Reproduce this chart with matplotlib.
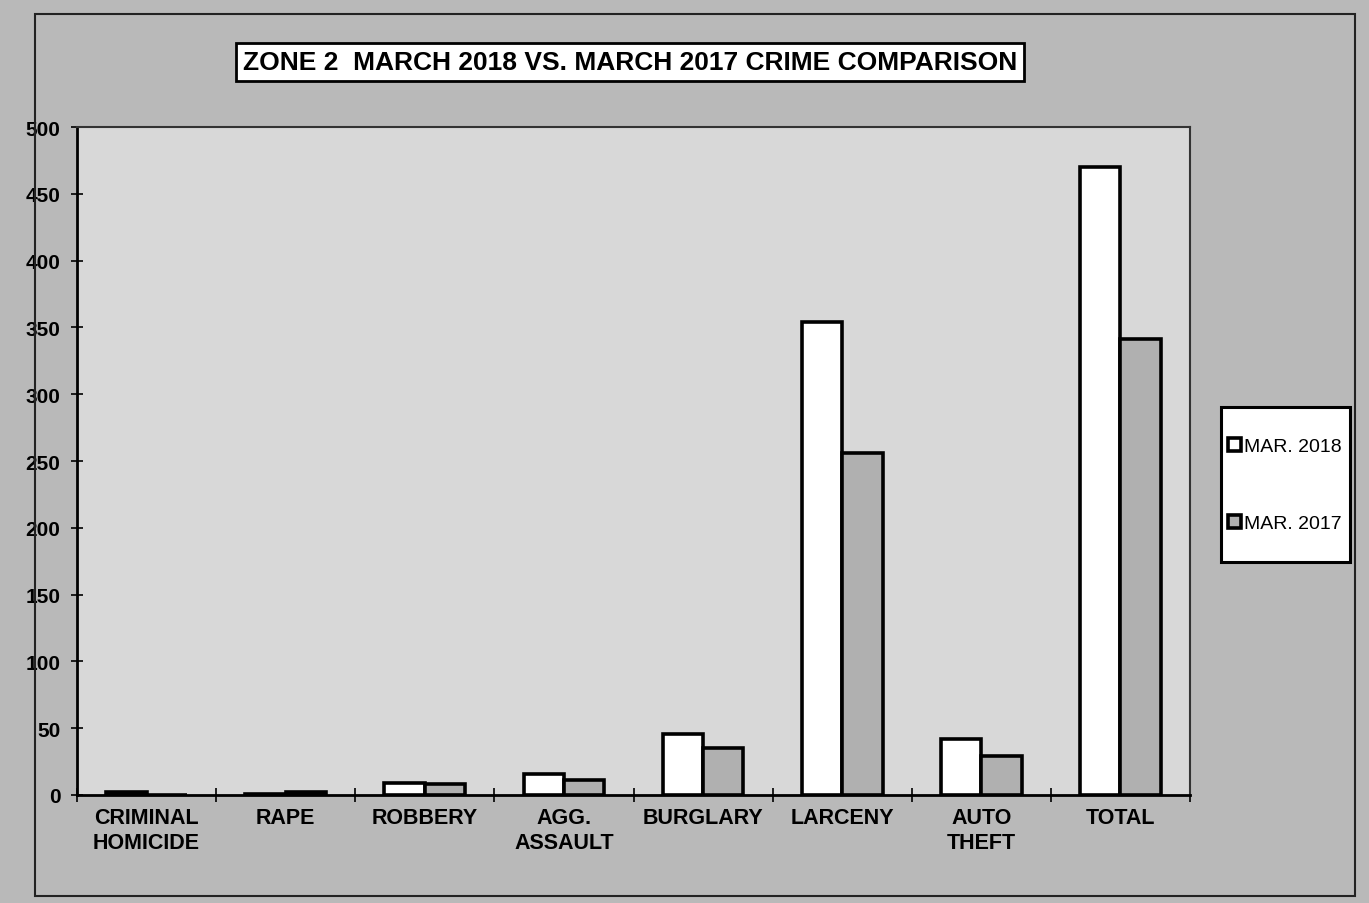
import matplotlib.pyplot as plt
import numpy as np
from matplotlib.patches import Rectangle

# data
categories = ["CRIMINAL\nHOMICIDE", "RAPE", "ROBBERY", "AGG.\nASSAULT",
              "BURGLARY", "LARCENY", "AUTO\nTHEFT", "TOTAL"]
mar_2018 = [2, 1, 9, 16, 46, 354, 42, 470]
mar_2017 = [0, 2, 8, 11, 35, 256, 29, 341]
series_labels = ["MAR. 2018", "MAR. 2017"]
y_ticks = list(range(0, 501, 50))

BG = "#b9b9b9"
PLOT_BG = "#d8d8d8"
GRAY_BAR = "#b0b0b0"
W, H = 1369, 904

plt.rcParams["font.family"] = ["Liberation Sans", "DejaVu Sans"]
plt.rcParams["font.weight"] = "bold"


def fig_box(x0, y0, x1, y1):
    # pixel box (top-left origin) -> figure fraction rectangle
    return (x0 / W, 1 - y1 / H, (x1 - x0) / W, (y1 - y0) / H)


fig = plt.figure(figsize=(W / 100, H / 100), dpi=100, facecolor=BG)
# outer frame of the pasted chart
fx, fy, fw, fh = fig_box(35, 15, 1355, 897)
fig.patches.append(Rectangle((fx, fy), fw, fh, transform=fig.transFigure,
                             fill=False, edgecolor="#222222", linewidth=1.5))

ax = fig.add_axes(fig_box(77, 128, 1190, 796))
ax.set_facecolor(PLOT_BG)

x = np.arange(len(categories))
w = 0.29
ax.bar(x - w / 2, mar_2018, width=w, color="white", edgecolor="black",
       linewidth=2.6, label=series_labels[0])
ax.bar(x + w / 2, mar_2017, width=w, color=GRAY_BAR, edgecolor="black",
       linewidth=2.6, label=series_labels[1])

ax.set_xlim(-0.5, len(categories) - 0.5)
ax.set_ylim(0, 500)
ax.set_yticks(y_ticks)
ax.set_yticklabels([str(t) for t in y_ticks], fontsize=15)
ax.set_xticks(x)
ax.set_xticklabels(categories, fontsize=15.5, linespacing=1.25)
ax.tick_params(axis="x", length=0, pad=9)
ax.tick_params(axis="y", direction="inout", length=8, width=1.2, pad=8)
ax.set_xticks(np.arange(-0.5, len(categories), 1.0), minor=True)
ax.tick_params(axis="x", which="minor", direction="inout", length=10, width=1.2)

for side in ["left", "bottom"]:
    ax.spines[side].set_linewidth(2)
for side in ["top", "right"]:
    ax.spines[side].set_linewidth(1.5)
    ax.spines[side].set_color("#333333")

fig.text(630 / W, 1 - 63 / H, "ZONE 2  MARCH 2018 VS. MARCH 2017 CRIME COMPARISON",
         ha="center", va="center", fontsize=19, fontweight="bold",
         bbox=dict(boxstyle="square,pad=0.25", facecolor="white",
                   edgecolor="black", linewidth=2))

# legend box
lx, ly, lw, lh = fig_box(1221, 408, 1350, 563)
fig.patches.append(Rectangle((lx, ly), lw, lh, transform=fig.transFigure,
                             facecolor="white", edgecolor="black", linewidth=2.2))
leg = fig.legend(loc="center", bbox_to_anchor=(1285 / W, 1 - 486 / H),
                 frameon=False, handlelength=0.65,
                 handleheight=0.65, handletextpad=0.15, labelspacing=3.1,
                 prop={"size": 14, "weight": "normal"})

fig.savefig("out.png", dpi=100, facecolor=BG)
